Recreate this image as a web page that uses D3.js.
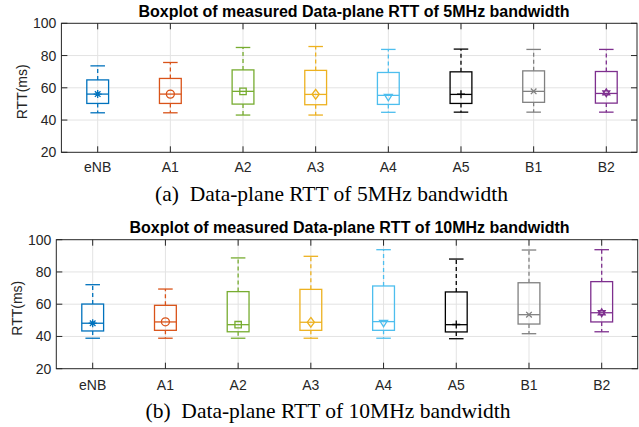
<!DOCTYPE html>
<html><head><meta charset="utf-8">
<script src="https://cdn.jsdelivr.net/npm/d3@7"></script>
<style>body{margin:0;background:#fff}svg{display:block}</style>
</head><body>
<svg id="chart" width="639" height="427"></svg>
<script>
const categories = ["eNB","A1","A2","A3","A4","A5","B1","B2"];
const colors = ["#0072BD","#D95319","#77AC30","#EDB120","#4DBEEE","#000000","#808080","#7E2F8E"];
const markers = ["asterisk","circle","square","diamond","triangleDown","plus","cross","hexagram"];
const yTicks = [20,40,60,80,100];

// 5 MHz
const low5  = [44.5, 44.5, 43.1, 43.1, 44.8, 44.9, 44.9, 44.9];
const q1_5  = [50.3, 50.3, 49.9, 49.5, 49.7, 50.3, 51.0, 50.5];
const med5  = [56.1, 56.1, 57.8, 55.9, 55.3, 55.9, 57.8, 56.5];
const q3_5  = [64.9, 65.8, 71.1, 70.8, 69.5, 69.9, 70.5, 70.1];
const up5   = [73.6, 75.7, 85.0, 85.6, 83.8, 84.0, 83.8, 83.8];
const mean5 = [56.1, 56.1, 57.8, 56.0, 54.4, 56.0, 57.8, 56.9];

// 10 MHz
const low10  = [38.9, 38.9, 38.9, 38.9, 38.9, 38.6, 41.7, 42.9];
const q1_10  = [43.4, 43.8, 42.9, 43.8, 43.8, 42.8, 47.7, 49.0];
const med10  = [48.2, 49.0, 47.3, 48.8, 49.2, 47.3, 53.5, 54.7];
const q3_10  = [60.1, 59.3, 67.8, 69.2, 71.3, 67.6, 73.3, 74.0];
const up10   = [72.1, 69.4, 88.7, 89.7, 93.8, 88.0, 93.6, 93.8];
const mean10 = [48.2, 49.1, 47.3, 48.8, 48.5, 47.4, 53.5, 54.7];

const svg = d3.select("#chart");
svg.append("rect").attr("width",639).attr("height",427).attr("fill","#fff");

function markerPath(type, r){
  const p = d3.path();
  if(type==="circle"){ p.arc(0,0,r,0,2*Math.PI); }
  else if(type==="square"){ p.rect(-r*0.8,-r*0.8,r*1.6,r*1.6); }
  else if(type==="diamond"){ p.moveTo(0,-r*1.2);p.lineTo(r*0.9,0);p.lineTo(0,r*1.2);p.lineTo(-r*0.9,0);p.closePath(); }
  else if(type==="triangleDown"){ p.moveTo(-r,-r*0.6);p.lineTo(r,-r*0.6);p.lineTo(0,r*1.0);p.closePath(); }
  else if(type==="plus"){ p.moveTo(-r,0);p.lineTo(r,0);p.moveTo(0,-r);p.lineTo(0,r); }
  else if(type==="cross"){ const a=r*0.7; p.moveTo(-a,-a);p.lineTo(a,a);p.moveTo(-a,a);p.lineTo(a,-a); }
  else if(type==="asterisk"){ const a=r*0.7; p.moveTo(-r,0);p.lineTo(r,0);p.moveTo(0,-r);p.lineTo(0,r);p.moveTo(-a,-a);p.lineTo(a,a);p.moveTo(-a,a);p.lineTo(a,-a); }
  else if(type==="hexagram"){
    const R=r, h=R*Math.sqrt(3)/2;
    p.moveTo(0,-R);p.lineTo(h,R/2);p.lineTo(-h,R/2);p.closePath();
    p.moveTo(0,R);p.lineTo(h,-R/2);p.lineTo(-h,-R/2);p.closePath();
  }
  return p.toString();
}

function panel(cfg){
  const {top,bottom,left,right,c1,c8,low,q1,med,q3,up,mean,title,titleY,titleX,caption,captionY,captionX,ylabX,xlabBase} = cfg;
  const g = svg.append("g");
  const x = d3.scaleLinear().domain([1,8]).range([c1,c8]);
  const y = d3.scaleLinear().domain([20,100]).range([bottom,top]);
  const step = x(2)-x(1);
  const bw = step*0.3, cw = step*0.2;
  g.selectAll(".gx").data(categories).enter().append("line")
    .attr("x1",(d,i)=>x(i+1)).attr("x2",(d,i)=>x(i+1)).attr("y1",top).attr("y2",bottom)
    .attr("stroke","#e3e3e3").attr("stroke-width",1);
  g.selectAll(".gy").data(yTicks.slice(1,-1)).enter().append("line")
    .attr("x1",left).attr("x2",right).attr("y1",d=>y(d)).attr("y2",d=>y(d))
    .attr("stroke","#e3e3e3").attr("stroke-width",1);
  categories.forEach((c,i)=>{
    const cx = x(i+1), col = colors[i];
    const bg = g.append("g").attr("stroke",col).attr("fill","none").attr("stroke-width",1.3);
    bg.append("line").attr("x1",cx).attr("x2",cx).attr("y1",y(q3[i])).attr("y2",y(up[i])).attr("stroke-dasharray","4,3");
    bg.append("line").attr("x1",cx).attr("x2",cx).attr("y1",y(q1[i])).attr("y2",y(low[i])).attr("stroke-dasharray","4,3");
    bg.append("line").attr("x1",cx-cw/2).attr("x2",cx+cw/2).attr("y1",y(up[i])).attr("y2",y(up[i]));
    bg.append("line").attr("x1",cx-cw/2).attr("x2",cx+cw/2).attr("y1",y(low[i])).attr("y2",y(low[i]));
    bg.append("rect").attr("x",cx-bw/2).attr("width",bw).attr("y",y(q3[i])).attr("height",y(q1[i])-y(q3[i]));
    bg.append("line").attr("x1",cx-bw/2).attr("x2",cx+bw/2).attr("y1",y(med[i])).attr("y2",y(med[i]));
    bg.append("path").attr("d",markerPath(markers[i],4)).attr("transform",`translate(${cx},${y(mean[i])})`);
  });
  const ax = "#262626";
  g.append("rect").attr("x",left).attr("y",top).attr("width",right-left).attr("height",bottom-top)
    .attr("fill","none").attr("stroke",ax).attr("stroke-width",1);
  const tl = 6;
  categories.forEach((c,i)=>{
    const cx=x(i+1);
    g.append("line").attr("x1",cx).attr("x2",cx).attr("y1",bottom).attr("y2",bottom-tl).attr("stroke",ax);
    g.append("line").attr("x1",cx).attr("x2",cx).attr("y1",top).attr("y2",top+tl).attr("stroke",ax);
    g.append("text").attr("x",cx).attr("y",xlabBase).attr("text-anchor","middle")
      .attr("font-family","Liberation Sans, Arial, sans-serif").attr("font-size",14).attr("fill",ax).text(c);
  });
  yTicks.forEach(t=>{
    g.append("line").attr("x1",left).attr("x2",left+tl).attr("y1",y(t)).attr("y2",y(t)).attr("stroke",ax);
    g.append("line").attr("x1",right).attr("x2",right-tl).attr("y1",y(t)).attr("y2",y(t)).attr("stroke",ax);
    g.append("text").attr("x",left-5).attr("y",y(t)).attr("dy","0.36em").attr("text-anchor","end")
      .attr("font-family","Liberation Sans, Arial, sans-serif").attr("font-size",14).attr("fill",ax).text(t);
  });
  g.append("text").attr("transform",`translate(${ylabX},${(top+bottom)/2+4}) rotate(-90)`).attr("text-anchor","middle")
    .attr("font-family","Liberation Sans, Arial, sans-serif").attr("font-size",14).attr("fill",ax).text("RTT(ms)");
  g.append("text").attr("x",titleX).attr("y",titleY).attr("text-anchor","middle")
    .attr("font-family","Liberation Sans, Arial, sans-serif").attr("font-weight","bold").attr("font-size",16).attr("fill","#000").text(title);
  g.append("text").attr("x",captionX).attr("y",captionY).attr("text-anchor","middle")
    .attr("font-family","Liberation Serif, Times New Roman, serif").attr("font-size",21.5).attr("fill","#000")
    .attr("xml:space","preserve").text(caption);
}

panel({top:23.3,bottom:152.3,left:61.4,right:637,c1:97.7,c8:606.3,low:low5,q1:q1_5,med:med5,q3:q3_5,up:up5,mean:mean5,
  title:"Boxplot of measured Data-plane RTT of 5MHz bandwidth",titleY:17,titleX:354,caption:"(a)  Data-plane RTT of 5MHz bandwidth",captionY:201,captionX:331.5,ylabX:27,xlabBase:172});
panel({top:239.7,bottom:368.7,left:56.3,right:637.7,c1:92.7,c8:601.7,low:low10,q1:q1_10,med:med10,q3:q3_10,up:up10,mean:mean10,
  title:"Boxplot of measured Data-plane RTT of 10MHz bandwidth",titleY:233,titleX:349.5,caption:"(b)  Data-plane RTT of 10MHz bandwidth",captionY:418,captionX:328,ylabX:22,xlabBase:390});
</script>
</body></html>
